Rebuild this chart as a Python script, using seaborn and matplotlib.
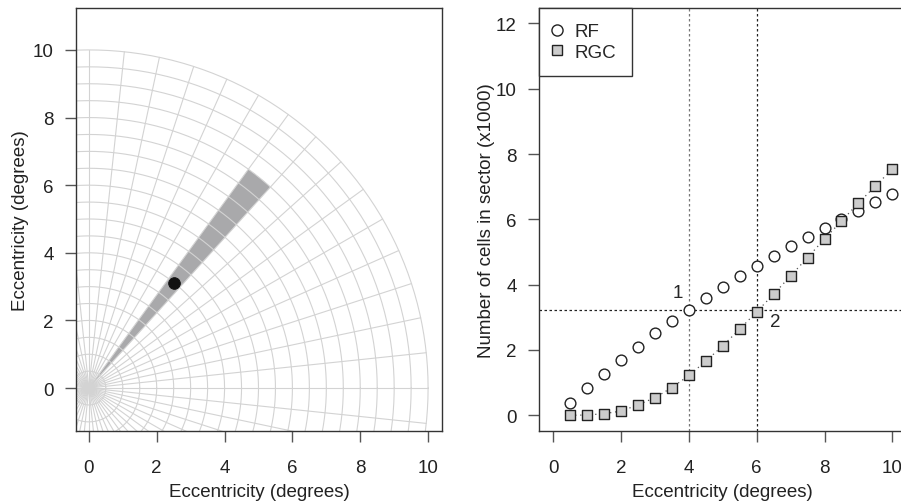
import numpy as np
import pandas as pd
import matplotlib
matplotlib.use("Agg")
import matplotlib.pyplot as plt
from matplotlib.lines import Line2D
import seaborn as sns

# polar grid of the visual field (left panel)
ring_radii = [0.5, 1.0, 1.5, 2.0, 2.5, 3.0, 3.5, 4.0, 4.5, 5.0,
              5.5, 6.0, 6.5, 7.0, 7.5, 8.0, 8.5, 9.0, 9.5, 10.0]
spoke_step_deg = 6
spoke_radius = 10.0
wedge_angles_deg = [48, 54]
wedge_radius = 8.0
dot_x = [2.5]
dot_y = [3.1]

# cells in sector vs eccentricity (right panel)
ecc = [0.5, 1.0, 1.5, 2.0, 2.5, 3.0, 3.5, 4.0, 4.5, 5.0,
       5.5, 6.0, 6.5, 7.0, 7.5, 8.0, 8.5, 9.0, 9.5, 10.0]
rf = [0.38, 0.83, 1.26, 1.68, 2.10, 2.51, 2.89, 3.23, 3.59, 3.94,
      4.27, 4.58, 4.89, 5.18, 5.47, 5.74, 6.02, 6.27, 6.52, 6.77]
rgc = [0.0, 0.01, 0.05, 0.13, 0.32, 0.54, 0.85, 1.22, 1.66, 2.13,
       2.64, 3.17, 3.71, 4.27, 4.83, 5.40, 5.95, 6.50, 7.02, 7.54]
vline_rf = 4
vline_rgc = 6
hline_y = 3.23

sns.set_style("ticks")
plt.rcParams['font.family'] = ['Liberation Sans', 'DejaVu Sans']
plt.rcParams['font.size'] = 13.5

FS = 13.5
edge = '#333333'
grid_col = '#d3d3d3'

fig = plt.figure(figsize=(9.01, 5.02), dpi=100)
ax1 = fig.add_axes([76/901, 70/502, 366/901, 423/502])
ax2 = fig.add_axes([539/901, 70/502, 367.6/901, 423/502])

# ---- left panel: polar grid with sector ----
th = np.linspace(wedge_angles_deg[0], wedge_angles_deg[1], 20) * np.pi / 180
wx = np.concatenate([[0], wedge_radius * np.cos(th), [0]])
wy = np.concatenate([[0], wedge_radius * np.sin(th), [0]])
ax1.fill(wx, wy, color='#a9a9ab', lw=0, zorder=1)

circ = np.linspace(0, 2 * np.pi, 400)
for r in ring_radii:
    ax1.plot(r * np.cos(circ), r * np.sin(circ), color=grid_col, lw=0.8, zorder=2)
for a in np.arange(0, 360, spoke_step_deg) * np.pi / 180:
    ax1.plot([0, spoke_radius * np.cos(a)], [0, spoke_radius * np.sin(a)],
             color=grid_col, lw=0.8, zorder=2)

sns.scatterplot(x=dot_x, y=dot_y, ax=ax1, color='#111111', s=70,
                edgecolor='#111111', zorder=5)

ax1.set_xlim(-0.38, 10.41)
ax1.set_ylim(-1.27, 11.24)
ax1.set_xticks([0, 2, 4, 6, 8, 10])
ax1.set_yticks([0, 2, 4, 6, 8, 10])
ax1.set_xlabel("Eccentricity (degrees)", fontsize=FS, labelpad=5)
ax1.set_ylabel("Eccentricity (degrees)", fontsize=FS, labelpad=3)

# ---- right panel: cell counts ----
df = pd.DataFrame({'ecc': ecc, 'RF': rf, 'RGC': rgc})

ax2.axvline(vline_rf, color='#777777', lw=0.9, ls=(0, (2, 2)), zorder=1)
ax2.axvline(vline_rgc, color='#222222', lw=0.9, ls=(0, (2, 2)), zorder=1)
ax2.axhline(hline_y, color='#222222', lw=0.9, ls=(0, (2, 2)), zorder=1)

sns.lineplot(data=df, x='ecc', y='RGC', ax=ax2, color='#555555', lw=0.9,
             ls=(0, (1, 3)), zorder=2)
sns.scatterplot(data=df, x='ecc', y='RF', ax=ax2, marker='o', s=60,
                facecolor='white', edgecolor='#222222', linewidth=1.0, zorder=3)
sns.scatterplot(data=df, x='ecc', y='RGC', ax=ax2, marker='s', s=42,
                facecolor='#cccccc', edgecolor='#222222', linewidth=1.0, zorder=4)

ax2.text(3.67, 3.77, "1", fontsize=FS, ha='center', va='center')
ax2.text(6.54, 2.88, "2", fontsize=FS, ha='center', va='center')

ax2.set_xlim(-0.42, 10.42)
ax2.set_ylim(-0.48, 12.47)
ax2.set_xticks([0, 2, 4, 6, 8, 10])
ax2.set_yticks([0, 2, 4, 6, 8, 10, 12])
ax2.set_xlabel("Eccentricity (degrees)", fontsize=FS, labelpad=5)
ax2.set_ylabel("Number of cells in sector (x1000)", fontsize=FS, labelpad=1)

handles = [Line2D([], [], marker='o', ls='none', markerfacecolor='white',
                  markeredgecolor='#222222', markersize=8),
           Line2D([], [], marker='s', ls='none', markerfacecolor='#cccccc',
                  markeredgecolor='#222222', markersize=6.5)]
leg = ax2.legend(handles, ['RF', 'RGC'], loc='upper left', borderaxespad=0,
                 fancybox=False, framealpha=1, edgecolor=edge, fontsize=FS,
                 handletextpad=0.77, handlelength=0.35, borderpad=0.8,
                 labelspacing=0.2)
leg.get_frame().set_linewidth(1.0)

for ax in (ax1, ax2):
    for sp in ax.spines.values():
        sp.set_visible(True)
        sp.set_color(edge)
        sp.set_linewidth(1.0)
    ax.tick_params(axis='both', direction='out', length=8, width=1.0,
                   color='#555555', labelsize=FS, labelcolor='#222222')
    ax.tick_params(axis='x', pad=12)
    ax.tick_params(axis='y', pad=8)
    ax.xaxis.label.set_color('#222222')
    ax.yaxis.label.set_color('#222222')

fig.savefig("out.png", dpi=100)
